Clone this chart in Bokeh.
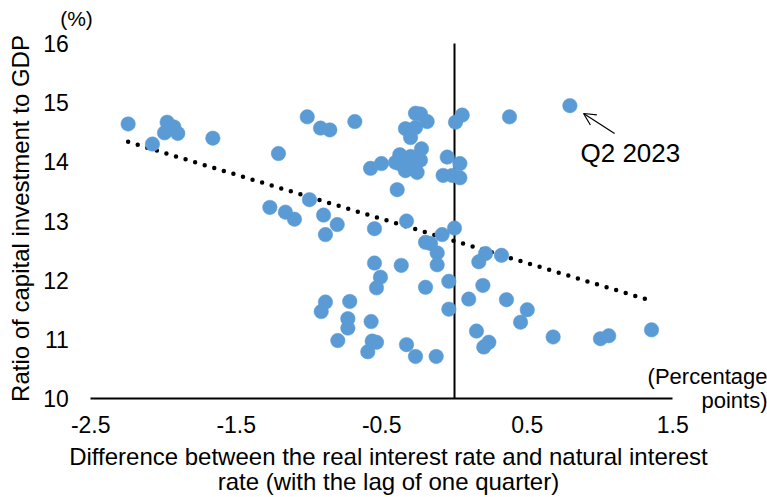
import numpy as np
from bokeh.plotting import figure
from bokeh.models import (Range1d, FixedTicker, Label, Arrow, OpenHead,
                          ColumnDataSource, PrintfTickFormatter)
from bokeh.embed import file_html
from bokeh.resources import INLINE

# Difference between real and natural interest rate (pp), lag of one quarter
rate_gap = [
    -2.243, -1.975, -1.929, -1.993, -1.902, -2.076, -1.661, -1.012, -0.921, -0.857,
    -1.210, -1.269, -1.162, -1.100, -0.997, -0.900, -0.806, -0.887, -0.685, -0.268,
    -0.234, -0.188, -0.337, -0.268, -0.302, 0.007, 0.053, -0.227, -0.376, -0.302,
    -0.234, -0.502, -0.577, -0.405, -0.371, -0.337, -0.302, -0.337, -0.257, -0.050,
    0.037, -0.078, 0.037, -0.016, -0.394, -0.550, -0.330, -0.199, -0.165, -0.085,
    0.000, -0.119, -0.119, -0.550, -0.366, 0.167, 0.213, 0.323, -0.509, -0.536,
    -0.199, -0.039, -0.039, 0.098, 0.195, 0.357, 0.500, 0.454, 0.151, 0.236,
    0.201, -0.887, -0.916, -0.720, -0.733, -0.733, -0.573, -0.802, -0.566, -0.536,
    -0.596, -0.330, -0.268, -0.126, 0.678, 1.003, 1.060, 1.354, 0.793, 0.378,
]
# Ratio of capital investment to GDP (%)
invest_ratio = [
    14.64, 14.67, 14.59, 14.49, 14.48, 14.30, 14.40, 14.76, 14.57, 14.54,
    14.14, 13.23, 13.15, 13.03, 13.36, 13.10, 12.94, 12.77, 14.68, 14.82,
    14.81, 14.68, 14.56, 14.58, 14.41, 14.67, 14.79, 14.22, 14.12, 14.09,
    14.03, 13.97, 13.89, 13.99, 13.96, 13.94, 13.91, 13.85, 13.82, 14.08,
    13.97, 13.77, 13.73, 13.77, 13.53, 12.87, 13.00, 12.64, 12.62, 12.77,
    12.88, 12.46, 12.26, 12.29, 12.25, 12.31, 12.45, 12.42, 12.05, 11.87,
    11.88, 11.98, 11.51, 11.68, 11.91, 11.67, 11.50, 11.29, 11.14, 10.95,
    10.87, 11.63, 11.47, 11.64, 11.35, 11.19, 11.30, 10.98, 10.97, 10.95,
    10.79, 10.91, 10.71, 10.71, 11.04, 11.01, 11.06, 11.16, 14.95, 14.76,
]

x_ticks = [-2.5, -1.5, -0.5, 0.5, 1.5]
y_ticks = [10, 11, 12, 13, 14, 15, 16]

FONT = "Liberation Sans"
BLUE = "#5B9BD5"

x_min, x_max = x_ticks[0], x_ticks[-1]
y_min, y_max = y_ticks[0], y_ticks[-1]

# the frame fills the whole canvas; axes are placed at fixed data locations
p = figure(width=767, height=497, output_backend="svg", toolbar_location=None,
           x_range=Range1d(-3.1203, 2.1512), y_range=Range1d(8.3268, 16.7268),
           min_border=0)
p.outline_line_color = None
p.grid.visible = False
p.background_fill_color = "white"
p.border_fill_color = "white"

p.xaxis.fixed_location = y_min
p.yaxis.fixed_location = x_min
p.xaxis.bounds = (x_min, x_max)
p.yaxis.bounds = (y_min, y_max)
p.xaxis.ticker = FixedTicker(ticks=x_ticks)
p.yaxis.ticker = FixedTicker(ticks=y_ticks)
p.xaxis.formatter = PrintfTickFormatter(format="%.1f")
p.yaxis.formatter = PrintfTickFormatter(format="%d")
for ax in (p.xaxis, p.yaxis):
    ax.major_tick_line_color = None
    ax.minor_tick_line_color = None
    ax.major_tick_out = 0
    ax.major_tick_in = 0
    ax.major_label_text_font = FONT
    ax.major_label_text_font_size = "23px"
    ax.major_label_text_color = "black"
p.xaxis.axis_line_color = "black"
p.xaxis.axis_line_width = 2
p.xaxis.major_label_standoff = 17
p.yaxis.axis_line_color = None
p.yaxis.major_label_standoff = 22

# vertical line at zero
p.segment(x0=[0], y0=[y_min], x1=[0], y1=[y_max], line_color="black", line_width=2)

# trend line (least squares)
xs = np.array(rate_gap)
ys = np.array(invest_ratio)
slope, intercept = np.polyfit(xs, ys, 1)
tx = np.array([xs.min(), xs.max()])
ty = slope * tx + intercept
p.line(tx, ty, line_color="black", line_width=4.5, line_dash="0 10", line_cap="round")

src = ColumnDataSource(dict(x=rate_gap, y=invest_ratio))
p.scatter("x", "y", source=src, size=14.5, fill_color=BLUE, line_color=BLUE,
          line_width=0.5)

# annotation
p.add_layout(Arrow(end=OpenHead(size=12, line_width=1.2, line_color="black"),
                   x_start=1.100, y_start=14.479, x_end=0.887, y_end=14.817,
                   line_width=1.2, line_color="black"))

def lab(x, y, text, size="22px", align="center", baseline="middle", angle=0.0):
    p.add_layout(Label(x=x, y=y, text=text, text_font=FONT, text_font_size=size,
                       text_align=align, text_baseline=baseline, angle=angle,
                       text_color="black"))

lab(0.866, 14.141, "Q2 2023", size="26px", align="left")
lab(-2.598, 16.422, "(%)", size="21px")
lab(2.151, 10.372, "(Percentage", size="22px", align="right")
lab(2.151, 9.966, "points)", size="22px", align="right")
lab(-0.454, 9.020, "Difference between the real interest rate and natural interest", size="24px")
lab(-0.454, 8.597, "rate (with the lag of one quarter)", size="24px")
lab(-2.983, 13.042, "Ratio of capital investment to GDP", size="24px", angle=np.pi / 2)

open("out.html", "w").write(file_html(p, INLINE))
